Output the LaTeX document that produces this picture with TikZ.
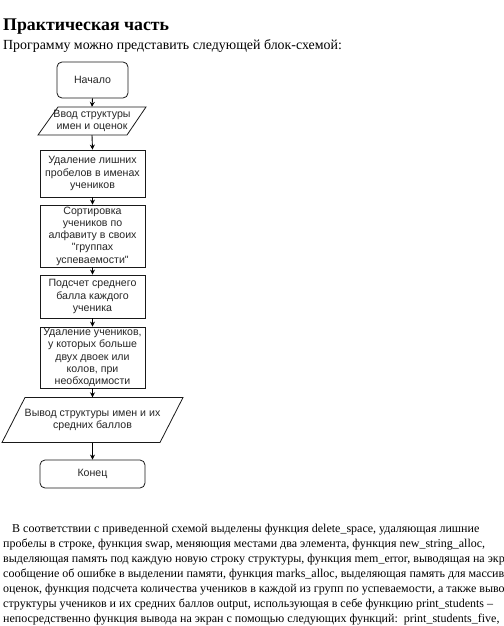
\documentclass[tikz,border=0pt]{standalone}
\usepackage{fontspec}
\setmainfont{Liberation Serif}
\newfontfamily\flowfont{Liberation Sans}
\usetikzlibrary{arrows.meta}
\begin{document}
\begin{tikzpicture}[x=1pt,y=-1pt,
  flowtxt/.style={font=\flowfont\fontsize{10.6}{12.2}\selectfont, text=black!85, align=center, inner sep=0pt},
  procbox/.style={flowtxt, draw=black!90, line width=0.8pt, minimum width=105pt},
  termbox/.style={procbox, rounded corners=5pt},
  iotxt/.style={flowtxt},
  ioline/.style={draw=black!90, line width=0.8pt},
  conn/.style={draw=black, line width=0.9pt, -{Stealth[length=5pt,width=5pt]}},
  bodyline/.style={anchor=base west, inner sep=0pt, font=\fontsize{12.0}{15}\selectfont},
]
\useasboundingbox (0,0) rectangle (503,626);
\fill[white] (0,0) rectangle (503,626);

% headings
\node[anchor=base west, inner sep=0pt, font=\bfseries\fontsize{17.8}{20}\selectfont] (title) at (3,31) {Практическая часть};
\node[anchor=base west, inner sep=0pt, font=\fontsize{13.9}{15}\selectfont] (sub) at (3,50) {Программу можно представить следующей блок-схемой:};

% flowchart
\node[termbox, minimum width=71pt, minimum height=36pt] (start) at (92.5,80) {Начало};

\node[iotxt, minimum width=88pt, minimum height=28pt] (in) at (92,121) {Ввод структуры\\ имен и оценок};
\draw[ioline] (38,135) -- (58,107) -- (146,107) -- (127,135) -- cycle;

\node[procbox, minimum height=47pt] (b1) at (92.5,173.5) {Удаление лишних\\пробелов в именах\\учеников};
\node[procbox, minimum height=62pt] (b2) at (92.5,236) {Сортировка\\учеников по\\алфавиту в своих\\"группах\\успеваемости"};
\node[procbox, minimum height=43pt] (b3) at (92.5,296.5) {Подсчет среднего\\балла каждого\\ученика};
\node[procbox, minimum height=61pt] (b4) at (92.5,357.5) {Удаление учеников,\\у которых больше\\двух двоек или\\колов, при\\необходимости};

\node[iotxt, minimum width=150pt, minimum height=45pt] (out) at (92.5,420) {Вывод структуры имен и их\\средних баллов};
\draw[ioline] (2,442.5) -- (25,397.5) -- (183,397.5) -- (160,442.5) -- cycle;

\node[termbox, minimum height=28pt] (end) at (92.5,474) {Конец};

\draw[conn] (start.south) -- (in.north);
\draw[conn] (in.south) -- (b1.north);
\draw[conn] (b1.south) -- (b2.north);
\draw[conn] (b2.south) -- (b3.north);
\draw[conn] (b3.south) -- (b4.north);
\draw[conn] (b4.south) -- (out.north);
\draw[conn] (out.south) -- (end.north);

% body text
\node[bodyline] (p1) at (12,532) {В соответствии с приведенной схемой выделены функция delete\_space, удаляющая лишние};
\node[bodyline] (p2) at (3,547) {пробелы в строке, функция swap, меняющия местами два элемента, функция new\_string\_alloc,};
\node[bodyline] (p3) at (3,562) {выделяющая память под каждую новую строку структуры, функция mem\_error, выводящая на экр};
\node[bodyline] (p4) at (3,577) {сообщение об ошибке в выделении памяти, функция marks\_alloc, выделяющая память для массив};
\node[bodyline] (p5) at (3,592) {оценок, функция подсчета количества учеников в каждой из групп по успеваемости, а также выво};
\node[bodyline] (p6) at (3,607) {структуры учеников и их средних баллов output, использующая в себе функцию print\_students –};
\node[bodyline] (p7) at (3,622) {непосредственно функция вывода на экран с помощью следующих функций:\ \ print\_students\_five,};
\end{tikzpicture}
\end{document}
